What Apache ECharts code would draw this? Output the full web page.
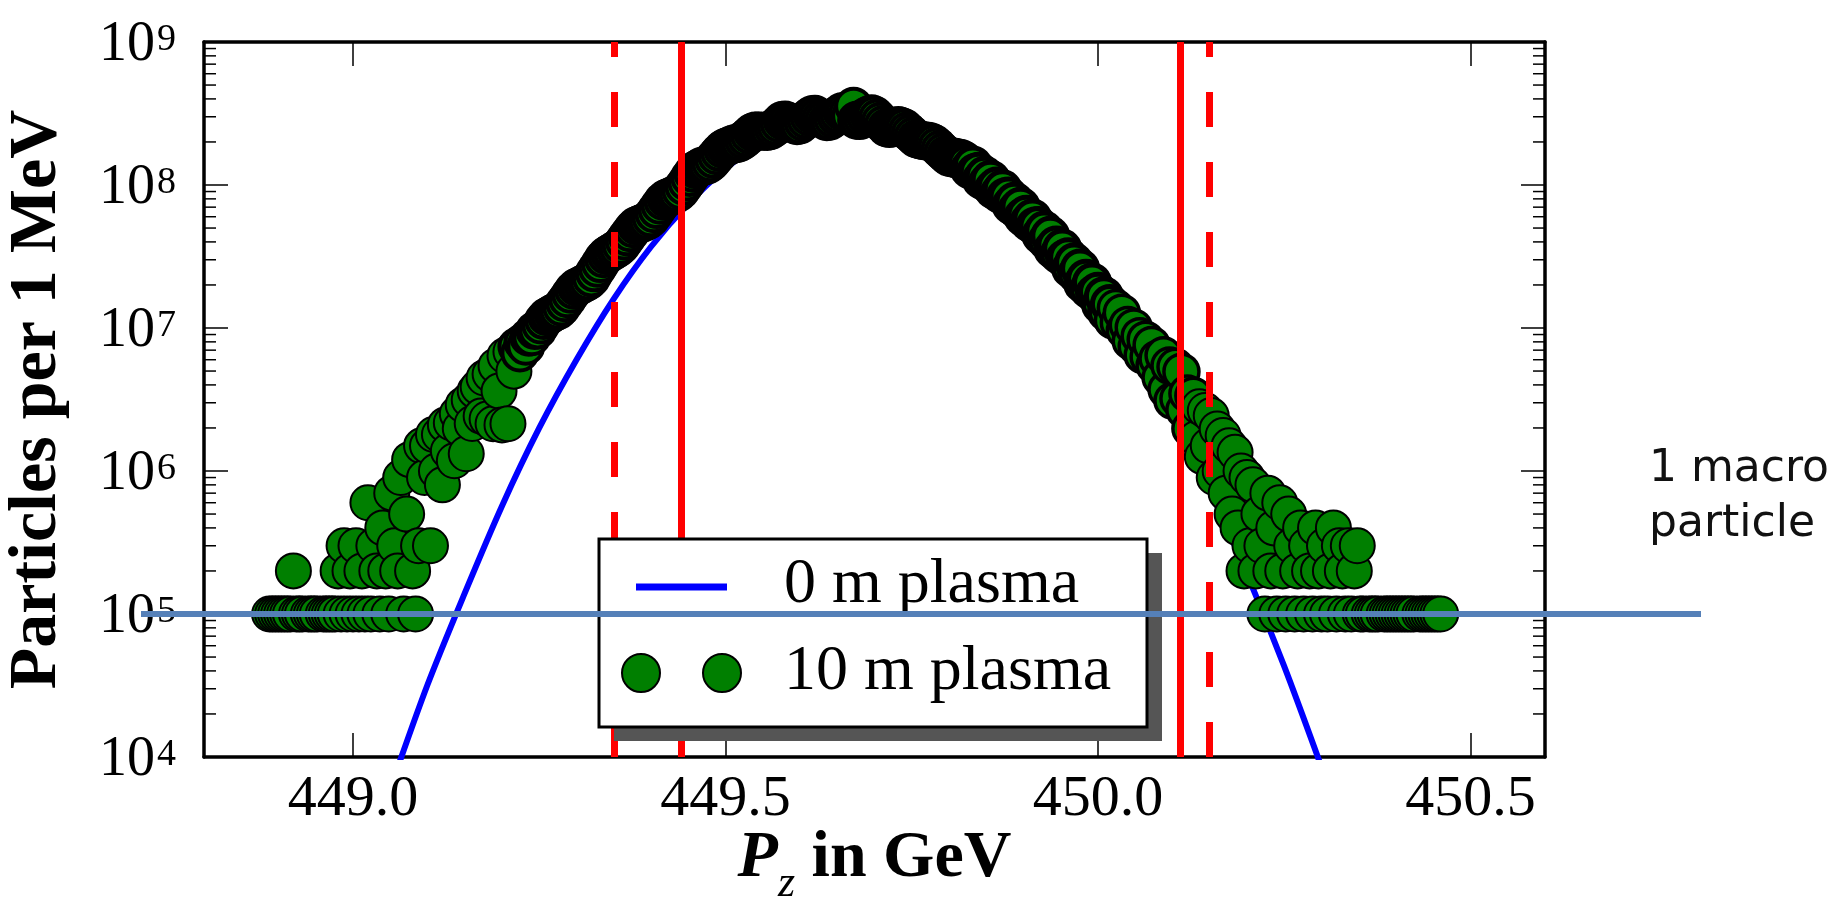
<!DOCTYPE html>
<html>
<head>
<meta charset="utf-8">
<title>Pz spectrum</title>
<script src="https://cdn.jsdelivr.net/npm/echarts@6/dist/echarts.min.js"></script>
<style>
html, body { margin: 0; padding: 0; background: #fff; }
#chart { width: 1845px; height: 907px; }
</style>
</head>
<body>
<div id="chart"></div>
<script>
var SERIF = 'Liberation Serif';

// axes
var xMin = 448.8, xMax = 450.6;
var yMin = 1e4, yMax = 1e9;
var xTicks = [449.0, 449.5, 450.0, 450.5];
var xTickLabels = ['449.0', '449.5', '450.0', '450.5'];
var minorMantissa = [2, 3, 4, 5, 6, 7, 8, 9];
var minorDecades = [1e4, 1e5, 1e6, 1e7, 1e8];

var name0 = '0 m plasma';
var name10 = '10 m plasma';

// 0 m plasma
var plasma0X = [449.05, 449.10, 449.15, 449.20, 449.25, 449.30, 449.35, 449.40, 449.45, 449.50,
                449.55, 449.60, 449.65, 449.70, 449.75, 449.80, 449.85, 449.90, 449.95, 450.00,
                450.05, 450.10, 450.15, 450.20, 450.25, 450.30];
var plasma0Y = [6.0e3, 3.2e4, 1.4e5, 5.7e5, 2.0e6, 6.0e6, 1.6e7, 3.7e7, 7.4e7, 1.3e8,
                2.0e8, 2.7e8, 3.1e8, 3.15e8, 2.8e8, 2.1e8, 1.4e8, 8.4e7, 4.3e7, 1.9e7,
                7.4e6, 2.5e6, 7.4e5, 1.9e5, 4.3e4, 8.5e3];

// 10 m plasma histogram, 4 MeV bins from 448.888 GeV (null = empty bin)
var binStart = 448.888, binWidth = 0.004;
var plasma10 = [
  1e5,1e5,1e5,1e5,1e5,1e5,1e5,1e5,2e5,1e5,
  1e5,1e5,null,1e5,1e5,1e5,1e5,null,1e5,1e5,
  1e5,1e5,1e5,2e5,1e5,3e5,1e5,2e5,1e5,3e5,
  1e5,2e5,1e5,6e5,1e5,3e5,2e5,1e5,4e5,2e5,
  1e5,7e5,3e5,2e5,9e5,1e5,5e5,1.2e6,2e5,1e5,
  3e5,1.5e6,9e5,1.5e6,3e5,1.8e6,1e6,1.8e6,8e5,2.1e6,
  1.38e6,2.17e6,1.18e6,2.51e6,1.98e6,2.9e6,1.32e6,3.14e6,2.15e6,3.63e6,
  3.86e6,2.42e6,4.47e6,2.31e6,4.76e6,2.14e6,5.43e6,3.62e6,2.1e6,6.4e6,
  2.14e6,6.82e6,4.99e6,7.43e6,6.68e6,7.93e6,7.45e6,8.63e6,8.69e6,9.62e6,
  9.7e6,1.05e7,1.13e7,1.2e7,1.23e7,1.27e7,1.3e7,1.33e7,1.4e7,1.5e7,
  1.6e7,1.72e7,1.84e7,1.93e7,1.97e7,2.02e7,2.07e7,2.13e7,2.24e7,2.43e7,
  2.62e7,2.82e7,3.05e7,3.21e7,3.32e7,3.42e7,3.52e7,3.63e7,3.79e7,4.06e7,
  4.34e7,4.63e7,4.95e7,5.19e7,5.3e7,5.41e7,5.52e7,5.64e7,5.89e7,6.3e7,
  6.73e7,7.21e7,7.71e7,8.05e7,8.22e7,8.39e7,8.57e7,8.77e7,9.16e7,9.79e7,
  1.05e8,1.13e8,1.21e8,1.28e8,1.31e8,1.35e8,1.36e8,1.38e8,1.43e8,1.51e8,
  1.6e8,1.69e8,1.78e8,1.84e8,1.87e8,1.91e8,1.94e8,1.95e8,1.99e8,2.06e8,
  2.14e8,2.24e8,2.34e8,2.39e8,2.39e8,2.38e8,2.38e8,2.37e8,2.4e8,2.48e8,
  2.57e8,2.69e8,2.82e8,2.85e8,2.79e8,2.72e8,2.66e8,2.6e8,2.63e8,2.75e8,
  2.86e8,2.99e8,3.1e8,3.12e8,3.03e8,2.94e8,2.86e8,2.77e8,2.79e8,2.9e8,
  3.02e8,3.13e8,3.25e8,3.26e8,3.16e8,3.05e8,3.55e8,2.84e8,2.82e8,2.91e8,
  3.0e8,3.09e8,3.15e8,3.09e8,2.94e8,2.79e8,2.65e8,2.52e8,2.48e8,2.52e8,
  2.57e8,2.61e8,2.57e8,2.51e8,2.4e8,2.3e8,2.2e8,2.11e8,2.07e8,2.05e8,
  2.03e8,2.02e8,2.0e8,1.95e8,1.87e8,1.78e8,1.7e8,1.63e8,1.58e8,1.56e8,
  1.55e8,1.53e8,1.52e8,1.48e8,1.41e8,1.29e8,1.37e8,1.22e8,1.24e8,1.09e8,
  1.16e8,1.03e8,1.09e8,9.33e7,9.75e7,8.75e7,9.33e7,8.22e7,8.3e7,7.23e7,
  7.64e7,6.73e7,7.05e7,5.98e7,6.19e7,5.51e7,5.83e7,5.13e7,5.16e7,4.47e7,
  4.8e7,4.07e7,4.41e7,3.56e7,3.78e7,3.27e7,3.59e7,3.04e7,3.13e7,2.6e7,
  2.87e7,2.38e7,2.61e7,2.05e7,2.21e7,1.87e7,2.08e7,1.73e7,1.79e7,1.46e7,
  1.67e7,1.29e7,1.47e7,1.13e7,1.38e7,1.09e7,1.28e7,9.62e6,1.05e7,8.09e6,
  1.01e7,7.43e6,8.77e6,6.46e6,8.28e6,6.28e6,7.62e6,5.47e6,6.1e6,4.5e6,
  6.44e6,3.71e6,5.46e6,3.1e6,5.35e6,3.21e6,4.95e6,2.67e6,3.48e6,1.98e6,
  3.36e6,1.69e6,2.81e6,1.26e6,2.65e6,1.5e6,2.44e6,9e5,1.97e6,1e6,
  1.77e6,7e5,1.5e6,5e5,1.35e6,4e5,1e6,2e5,9e5,3e5,
  8e5,2e5,5e5,3e5,1e5,7e5,2e5,4e5,1e5,6e5,
  2e5,1e5,5e5,3e5,1e5,2e5,4e5,1e5,3e5,2e5,
  1e5,4e5,2e5,1e5,3e5,1e5,2e5,4e5,1e5,3e5,
  2e5,1e5,3e5,1e5,2e5,3e5,1e5,1e5,null,1e5,
  1e5,1e5,1e5,null,1e5,1e5,1e5,1e5,1e5,1e5,
  1e5,1e5,1e5,1e5,1e5,null,1e5,1e5,1e5,1e5,
  1e5,1e5,1e5,1e5
];

// red cut lines
var cutSolid = [449.44, 450.11];
var cutDashed = [449.35, 450.15];

// one macro particle
var macroLevel = 1e5;

// where the markers pile up the edges merge into a black band
function edgeWidth(x) {
    if (x >= 449.22 && x < 449.80) return 4;
    if (x >= 449.80 && x < 450.02) return 5;
    if (x >= 450.02 && x < 450.13) return 3.5;
    return 2;
}

var line0 = plasma0X.map(function (x, i) { return [x, plasma0Y[i]]; });
var points10 = [];
plasma10.forEach(function (v, i) {
    if (v == null) return;
    var x = +(binStart + i * binWidth).toFixed(3);
    points10.push({ value: [x, v], itemStyle: { borderWidth: edgeWidth(x) } });
});
var minorTicks = [];
minorDecades.forEach(function (d) {
    minorMantissa.forEach(function (m) { minorTicks.push([xMin, m * d]); });
});

var red = '#ff0000';
var cutLines = cutSolid.map(function (x) {
    return { xAxis: x, lineStyle: { color: red, width: 7, type: 'solid' } };
}).concat(cutDashed.map(function (x) {
    return { xAxis: x, lineStyle: { color: red, width: 7, type: [35, 35] } };
}));

var axisLine = { show: true, onZero: false, lineStyle: { color: '#000', width: 3.5 } };
var majorTick = { show: true, inside: true, length: 24, lineStyle: { color: '#000', width: 1.5 } };

var option = {
    animation: false,
    backgroundColor: '#fff',
    grid: { left: 204, right: 300, top: 42, bottom: 150, containLabel: false, outerBoundsMode: 'none' },
    xAxis: [{
        type: 'value', min: xMin, max: xMax, position: 'bottom',
        axisLine: axisLine,
        axisTick: Object.assign({ customValues: xTicks }, majorTick),
        axisLabel: { show: false },
        splitLine: { show: false },
        name: '{p|P}{z|z}{t| in GeV}',
        nameLocation: 'middle', nameGap: 69,
        nameTextStyle: {
            rich: {
                p: { fontFamily: SERIF, fontStyle: 'italic', fontWeight: 'bold', fontSize: 66, lineHeight: 80, verticalAlign: 'top', color: '#000' },
                z: { fontFamily: SERIF, fontStyle: 'italic', fontSize: 44, lineHeight: 44, verticalAlign: 'bottom', color: '#000' },
                t: { fontFamily: SERIF, fontWeight: 'bold', fontSize: 66, lineHeight: 80, verticalAlign: 'top', color: '#000' }
            }
        }
    }, {
        type: 'value', min: xMin, max: xMax, position: 'top',
        axisLine: axisLine,
        axisTick: Object.assign({ customValues: xTicks }, majorTick),
        axisLabel: { show: false },
        splitLine: { show: false }
    }],
    yAxis: [{
        type: 'log', logBase: 10, min: yMin, max: yMax, position: 'left',
        axisLine: axisLine,
        axisTick: majorTick,
        minorTick: { show: false },
        axisLabel: {
            showMinLabel: true, showMaxLabel: true, margin: 28,
            formatter: function (v) { return '{b|10}{e|' + Math.round(Math.log10(v)) + '}'; },
            rich: {
                b: { fontFamily: SERIF, fontSize: 56, lineHeight: 62, padding: [8, 0, 0, 0], verticalAlign: 'bottom', color: '#000' },
                e: { fontFamily: SERIF, fontSize: 38, lineHeight: 40, padding: [10, 0, 0, 2], verticalAlign: 'top', color: '#000' }
            }
        },
        splitLine: { show: false },
        name: 'Particles per 1 MeV',
        nameLocation: 'middle', nameRotate: 90, nameGap: 133,
        nameTextStyle: { fontFamily: SERIF, fontWeight: 'bold', fontSize: 68, color: '#000' }
    }, {
        type: 'log', logBase: 10, min: yMin, max: yMax, position: 'right',
        axisLine: axisLine,
        axisTick: majorTick,
        minorTick: { show: false },
        axisLabel: { show: false },
        splitLine: { show: false }
    }],
    series: [{
        name: name0, type: 'line', data: line0,
        xAxisIndex: 0, yAxisIndex: 0,
        symbol: 'none', smooth: 0.3, clip: true,
        lineStyle: { color: '#0000ff', width: 6 },
        silent: true, z: 2
    }, {
        name: name10, type: 'scatter', data: points10,
        xAxisIndex: 0, yAxisIndex: 0,
        symbol: 'circle', symbolSize: 35,
        itemStyle: { color: '#007f00', borderColor: '#000', borderWidth: 2, opacity: 1 },
        silent: true, z: 3,
        markLine: {
            silent: true, symbol: ['none', 'none'], animation: false,
            label: { show: false },
            data: cutLines
        }
    }, {
        type: 'custom', xAxisIndex: 0, yAxisIndex: 0, silent: true, z: 6,
        data: minorTicks,
        renderItem: function (params, api) {
            var y = api.coord([api.value(0), api.value(1)])[1];
            var cs = params.coordSys;
            var st = { stroke: '#000', lineWidth: 1.5 };
            return {
                type: 'group',
                children: [
                    { type: 'line', shape: { x1: cs.x, y1: y, x2: cs.x + 12, y2: y }, style: st },
                    { type: 'line', shape: { x1: cs.x + cs.width - 12, y1: y, x2: cs.x + cs.width, y2: y }, style: st }
                ]
            };
        }
    }]
};

var chart = echarts.init(document.getElementById('chart'));
chart.setOption(option);

// tick labels of the x axis, legend box with shadow, macro-particle line and note
var yMacro = chart.convertToPixel({ yAxisIndex: 0 }, macroLevel);
var yBottom = chart.convertToPixel({ yAxisIndex: 0 }, yMin);
var legendFont = '64px "' + SERIF + '"';
var graphics = xTicks.map(function (t, i) {
    return {
        type: 'text', silent: true, z: 50,
        style: {
            x: chart.convertToPixel({ xAxisIndex: 0 }, t), y: yBottom + 14,
            text: xTickLabels[i], font: '58px "' + SERIF + '"', fill: '#000',
            align: 'center', verticalAlign: 'top'
        }
    };
});
graphics = graphics.concat([
    { type: 'rect', silent: true, z: 100, shape: { x: 614, y: 553, width: 548, height: 188 }, style: { fill: '#555' } },
    { type: 'rect', silent: true, z: 101, shape: { x: 599, y: 539, width: 548, height: 188 }, style: { fill: '#fff', stroke: '#000', lineWidth: 3 } },
    { type: 'line', silent: true, z: 102, shape: { x1: 636, y1: 587, x2: 727, y2: 587 }, style: { stroke: '#0000ff', lineWidth: 7 } },
    { type: 'circle', silent: true, z: 102, shape: { cx: 641, cy: 673, r: 19 }, style: { fill: '#007f00', stroke: '#000', lineWidth: 2 } },
    { type: 'circle', silent: true, z: 102, shape: { cx: 722, cy: 673, r: 19 }, style: { fill: '#007f00', stroke: '#000', lineWidth: 2 } },
    { type: 'text', silent: true, z: 102, style: { x: 784, y: 585, text: name0, font: legendFont, fill: '#000', verticalAlign: 'middle' } },
    { type: 'text', silent: true, z: 102, style: { x: 784, y: 672, text: name10, font: legendFont, fill: '#000', verticalAlign: 'middle' } },
    { type: 'line', silent: true, z: 200, shape: { x1: 141, y1: yMacro, x2: 1701, y2: yMacro }, style: { stroke: '#5580b8', lineWidth: 6 } },
    { type: 'text', silent: true, z: 200, style: { x: 1649, y: 442, text: '1 macro\nparticle', font: '44px "DejaVu Sans", sans-serif', fill: '#111', lineHeight: 55 } }
]);
chart.setOption({ graphic: graphics });
</script>
</body>
</html>
